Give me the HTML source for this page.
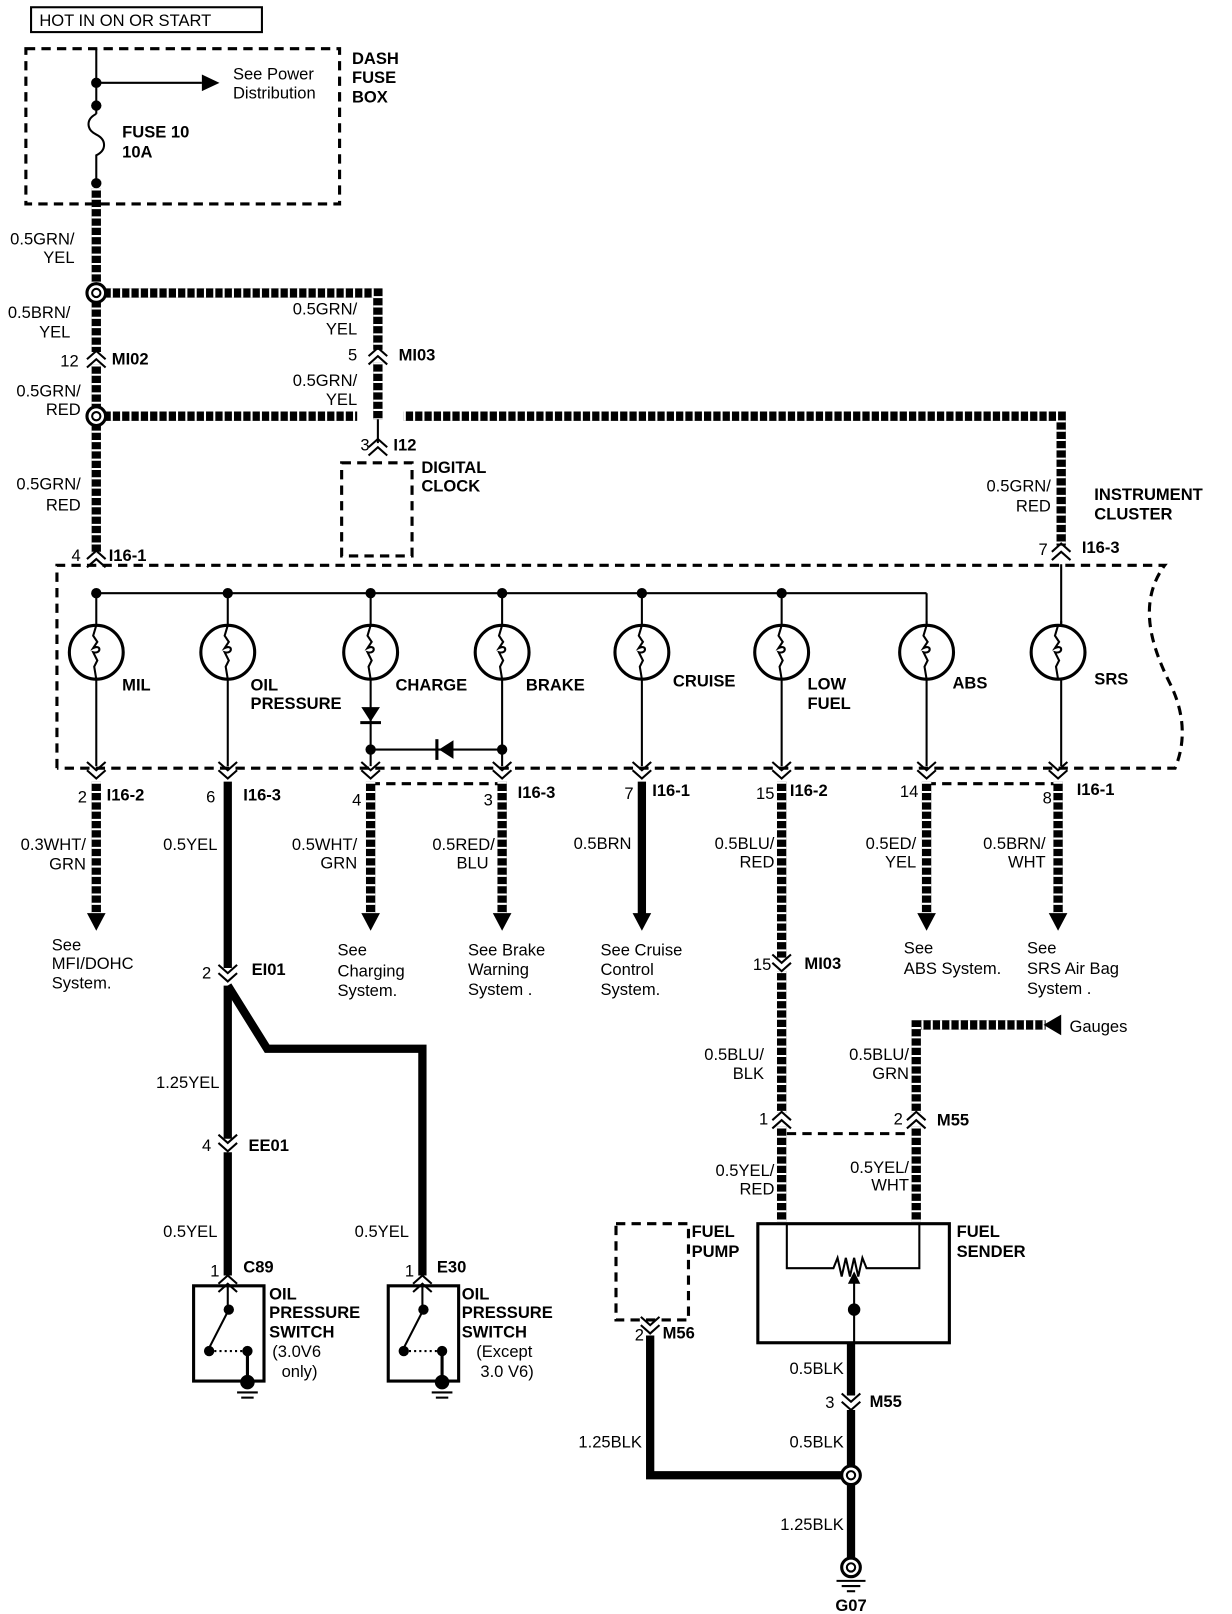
<!DOCTYPE html>
<html><head><meta charset="utf-8"><style>
html,body{margin:0;padding:0;background:#fff;}
svg{display:block;}
text{font-family:"Liberation Sans",sans-serif;font-size:16px;fill:#000;}
.b{font-weight:bold;}
.r{text-anchor:end;}
.c{text-anchor:middle;}
.t{stroke:#000;stroke-width:2;fill:none;}
.d{stroke:#000;stroke-width:3;fill:none;stroke-dasharray:9 6;}
.hb{stroke:#000;stroke-width:9;fill:none;}
.hw{stroke:#fff;stroke-width:9;fill:none;stroke-dasharray:2 7;}
.s{stroke:#000;stroke-width:8;fill:none;}
</style></head><body>
<svg width="1232" height="1614" viewBox="0 0 1190 1559" preserveAspectRatio="none" xmlns="http://www.w3.org/2000/svg">
<defs>
<g id="cd"><polyline class="t" points="-9,-8 0,0 9,-8" stroke-width="2.5"/><polyline class="t" points="-9,0 0,8 9,0" stroke-width="2.5"/></g>
<g id="cu"><polyline class="t" points="-9,8 0,0 9,8" stroke-width="2.5"/><polyline class="t" points="-9,0 0,-8 9,0" stroke-width="2.5"/></g>
<g id="bulb"><circle r="26" fill="#fff" stroke="#000" stroke-width="3"/><path d="M0,-26 l-3,10 l4,6 l-4,6 c8,-4 8,6 0,4 l4,8 l-3,6 L0,26" class="t"/></g>
<g id="sw1">
<use href="#cu" x="220" y="1240"/>
<rect x="187" y="1242" width="68" height="92" fill="none" stroke="#000" stroke-width="3"/>
<line class="t" x1="220" y1="1240" x2="220" y2="1262"/><circle cx="221" cy="1265" r="5"/>
<line class="t" x1="221" y1="1265" x2="202" y2="1302"/><circle cx="202" cy="1305" r="5"/>
<line x1="202" y1="1305" x2="238" y2="1305" stroke="#000" stroke-width="2" stroke-dasharray="2 3"/><circle cx="239" cy="1305" r="5"/>
<line x1="239" y1="1305" x2="239" y2="1335" stroke="#000" stroke-width="3"/><circle cx="239" cy="1335" r="7"/>
<line x1="229" y1="1345" x2="249" y2="1345" class="t"/><line x1="233" y1="1350" x2="245" y2="1350" class="t"/>
</g>
</defs>
<rect x="0" y="0" width="1190" height="1559" fill="#fff"/>
<rect x="30" y="7" width="223" height="24" fill="none" stroke="#000" stroke-width="2"/>
<text x="38" y="25">HOT IN ON OR START</text>
<rect x="25" y="47" width="303" height="150" class="d"/>
<text class="b" x="340" y="62">DASH</text><text class="b" x="340" y="80">FUSE</text><text class="b" x="340" y="99">BOX</text>
<line class="t" x1="93" y1="47" x2="93" y2="110"/>
<line class="t" x1="93" y1="80" x2="195" y2="80"/><polygon points="195,72 212,80 195,88"/>
<circle cx="93" cy="80" r="5"/><circle cx="93" cy="102" r="5"/>
<path class="t" d="M93,110 c-10,5 -10,15 0,20 c10,5 10,15 0,20 L93,177"/>
<circle cx="93" cy="177" r="5"/>
<text x="225" y="77">See Power</text><text x="225" y="95">Distribution</text>
<text class="b" x="118" y="133">FUSE 10</text><text class="b" x="118" y="152">10A</text>
<g>
<path class="hb" d="M93,182 V278"/><path class="hw" d="M93,182 V278"/>
<path class="hb" d="M98,283 H365 V338"/><path class="hw" d="M98,283 H365 V338"/>
<path class="hb" d="M93,288 V340 M93,352 V397"/><path class="hw" d="M93,288 V340 M93,352 V397"/>
<path class="hb" d="M365,350 V405"/><path class="hw" d="M365,350 V405"/>
<path class="hb" d="M98,402 H345"/><path class="hw" d="M98,402 H345"/>
<path class="hb" d="M93,407 V535"/><path class="hw" d="M93,407 V535"/>
<path class="hb" d="M390,402 H1025 V527"/><path class="hw" d="M390,402 H1025 V527"/>
</g>
<line class="t" x1="365" y1="405" x2="365" y2="428"/>
<circle cx="93" cy="283" r="9" fill="#fff" stroke="#000" stroke-width="3"/><circle cx="93" cy="283" r="4" fill="#fff" stroke="#000" stroke-width="2"/>
<circle cx="93" cy="402" r="9" fill="#fff" stroke="#000" stroke-width="3"/><circle cx="93" cy="402" r="4" fill="#fff" stroke="#000" stroke-width="2"/>
<text class="r" x="72" y="236">0.5GRN/</text><text class="r" x="72" y="254">YEL</text>
<text class="r" x="68" y="307">0.5BRN/</text><text class="r" x="68" y="326">YEL</text>
<use href="#cu" x="93" y="347"/><text class="r" x="76" y="354">12</text><text class="b" x="108" y="352">MI02</text>
<text class="r" x="78" y="383">0.5GRN/</text><text class="r" x="78" y="401">RED</text>
<text class="r" x="78" y="473">0.5GRN/</text><text class="r" x="78" y="493">RED</text>
<text class="r" x="345" y="304">0.5GRN/</text><text class="r" x="345" y="323">YEL</text>
<use href="#cu" x="365" y="344"/><text class="r" x="345" y="348">5</text><text class="b" x="385" y="348">MI03</text>
<text class="r" x="345" y="373">0.5GRN/</text><text class="r" x="345" y="391">YEL</text>
<use href="#cu" x="365" y="432"/><text class="r" x="357" y="435">3</text><text class="b" x="380" y="435">I12</text>
<rect x="330" y="447" width="68" height="90" class="d"/>
<text class="b" x="407" y="457">DIGITAL</text><text class="b" x="407" y="475">CLOCK</text>
<text class="r" x="1015" y="475">0.5GRN/</text><text class="r" x="1015" y="494">RED</text>
<text class="b" x="1057" y="483">INSTRUMENT</text><text class="b" x="1057" y="502">CLUSTER</text>
<use href="#cu" x="93" y="540"/><text class="r" x="78" y="542">4</text><text class="b" x="105" y="542">I16-1</text>
<use href="#cu" x="1025" y="533"/><text class="r" x="1012" y="536">7</text><text class="b" x="1045" y="534">I16-3</text>
<path class="d" d="M55,742 V546 H1125 C1100,580 1110,620 1130,660 C1150,700 1140,730 1135,742 H55"/>
<line class="t" x1="93" y1="573" x2="895" y2="573"/><line class="t" x1="895" y1="573" x2="895" y2="604"/>
<line class="t" x1="1025" y1="545" x2="1025" y2="604"/>
<g fill="#000"><circle cx="93" cy="573" r="5"/><circle cx="220" cy="573" r="5"/><circle cx="358" cy="573" r="5"/><circle cx="485" cy="573" r="5"/><circle cx="620" cy="573" r="5"/><circle cx="755" cy="573" r="5"/></g>
<g class="t">
<line x1="93" y1="573" x2="93" y2="740"/><line x1="220" y1="573" x2="220" y2="740"/><line x1="358" y1="573" x2="358" y2="740"/><line x1="485" y1="573" x2="485" y2="740"/><line x1="620" y1="573" x2="620" y2="740"/><line x1="755" y1="573" x2="755" y2="740"/><line x1="895" y1="600" x2="895" y2="740"/><line x1="1025" y1="600" x2="1025" y2="740"/>
<line x1="358" y1="724" x2="485" y2="724"/>
</g>
<use href="#bulb" x="93" y="630"/><use href="#bulb" x="220" y="630"/><use href="#bulb" x="358" y="630"/><use href="#bulb" x="485" y="630"/><use href="#bulb" x="620" y="630"/><use href="#bulb" x="755" y="630"/><use href="#bulb" x="895" y="630"/><use href="#bulb" x="1022" y="630"/>
<polygon points="349,683 367,683 358,697"/><line x1="348" y1="698" x2="368" y2="698" stroke="#000" stroke-width="3"/>
<polygon points="438,715 438,733 424,724"/><line x1="422" y1="714" x2="422" y2="734" stroke="#000" stroke-width="3"/>
<circle cx="358" cy="724" r="5"/><circle cx="485" cy="724" r="5"/>
<g class="b">
<text x="118" y="667">MIL</text><text x="242" y="667">OIL</text><text x="242" y="685">PRESSURE</text><text x="382" y="667">CHARGE</text><text x="508" y="667">BRAKE</text><text x="650" y="663">CRUISE</text><text x="780" y="666">LOW</text><text x="780" y="685">FUEL</text><text x="920" y="665">ABS</text><text x="1057" y="661">SRS</text>
</g>
<line class="d" x1="358" y1="757" x2="485" y2="757" stroke-width="2"/><line class="d" x1="895" y1="757" x2="1022" y2="757" stroke-width="2"/>
<g>
<use href="#cd" x="93" y="744"/><use href="#cd" x="220" y="744"/><use href="#cd" x="358" y="744"/><use href="#cd" x="485" y="744"/><use href="#cd" x="620" y="744"/><use href="#cd" x="755" y="744"/><use href="#cd" x="895" y="744"/><use href="#cd" x="1022" y="744"/>
</g>
<text class="r" x="84" y="775">2</text><text class="b" x="103" y="773">I16-2</text>
<text class="r" x="208" y="775">6</text><text class="b" x="235" y="773">I16-3</text>
<text class="r" x="349" y="778">4</text>
<text class="r" x="476" y="778">3</text><text class="b" x="500" y="771">I16-3</text>
<text class="r" x="612" y="772">7</text><text class="b" x="630" y="769">I16-1</text>
<text class="r" x="748" y="772">15</text><text class="b" x="763" y="769">I16-2</text>
<text class="r" x="887" y="770">14</text>
<text class="r" x="1016" y="776">8</text><text class="b" x="1040" y="768">I16-1</text>
<g>
<path class="hb" d="M93,755 V885"/><path class="hw" d="M93,755 V885"/>
<path class="hb" d="M358,755 V885"/><path class="hw" d="M358,755 V885"/>
<path class="hb" d="M485,755 V885"/><path class="hw" d="M485,755 V885"/>
<path class="hb" d="M895,755 V885"/><path class="hw" d="M895,755 V885"/>
<path class="hb" d="M1022,755 V885"/><path class="hw" d="M1022,755 V885"/>
<path class="hb" d="M755,755 V925 M755,938 V1075 M755,1088 V1180"/><path class="hw" d="M755,755 V925 M755,938 V1075 M755,1088 V1180"/>
<path class="hb" d="M885,1180 V1088 M885,1075 V990 H1010"/><path class="hw" d="M885,1180 V1088 M885,1075 V990 H1010"/>
</g>
<line class="s" x1="620" y1="755" x2="620" y2="885"/>
<g><polygon points="84,882 102,882 93,899"/><polygon points="349,882 367,882 358,899"/><polygon points="476,882 494,882 485,899"/><polygon points="611,882 629,882 620,899"/><polygon points="886,882 904,882 895,899"/><polygon points="1013,882 1031,882 1022,899"/></g>
<polygon points="1025,980 1025,1000 1008,990"/>
<text x="1033" y="997">Gauges</text>
<text class="r" x="83" y="821">0.3WHT/</text><text class="r" x="83" y="840">GRN</text>
<text class="r" x="210" y="821">0.5YEL</text>
<text class="r" x="345" y="821">0.5WHT/</text><text class="r" x="345" y="839">GRN</text>
<text class="r" x="478" y="821">0.5RED/</text><text class="r" x="472" y="839">BLU</text>
<text class="r" x="610" y="820">0.5BRN</text>
<text class="r" x="748" y="820">0.5BLU/</text><text class="r" x="748" y="838">RED</text>
<text class="r" x="885" y="820">0.5ED/</text><text class="r" x="885" y="838">YEL</text>
<text class="r" x="1010" y="820">0.5BRN/</text><text class="r" x="1010" y="838">WHT</text>
<text x="50" y="918">See</text><text x="50" y="936">MFI/DOHC</text><text x="50" y="955">System.</text>
<text x="326" y="923">See</text><text x="326" y="943">Charging</text><text x="326" y="962">System.</text>
<text x="452" y="923">See Brake</text><text x="452" y="942">Warning</text><text x="452" y="961">System .</text>
<text x="580" y="923">See Cruise</text><text x="580" y="942">Control</text><text x="580" y="961">System.</text>
<text x="873" y="921">See</text><text x="873" y="941">ABS System.</text>
<text x="992" y="921">See</text><text x="992" y="941">SRS Air Bag</text><text x="992" y="960">System .</text>
<path class="s" d="M220,755 V935"/>
<use href="#cd" x="220" y="940"/><text class="r" x="204" y="945">2</text><text class="b" x="243" y="942">EI01</text>
<path class="s" d="M220,952 V1100 M220,1113 V1232"/>
<path class="s" d="M220,952 L258,1013 H408 V1232"/>
<text class="r" x="212" y="1051">1.25YEL</text>
<use href="#cd" x="220" y="1104"/><text class="r" x="204" y="1112">4</text><text class="b" x="240" y="1112">EE01</text>
<text class="r" x="210" y="1195">0.5YEL</text><text class="r" x="395" y="1195">0.5YEL</text>
<use href="#sw1" x="0" y="0"/>
<use href="#sw1" x="188" y="0"/>
<text class="r" x="212" y="1233">1</text><text class="b" x="235" y="1229">C89</text>
<text class="r" x="400" y="1233">1</text><text class="b" x="422" y="1229">E30</text>
<text class="b" x="260" y="1255">OIL</text><text class="b" x="260" y="1273">PRESSURE</text><text class="b" x="260" y="1292">SWITCH</text><text x="263" y="1311">(3.0V6</text><text x="272" y="1330">only)</text>
<text class="b" x="446" y="1255">OIL</text><text class="b" x="446" y="1273">PRESSURE</text><text class="b" x="446" y="1292">SWITCH</text><text x="460" y="1311">(Except</text><text x="464" y="1330">3.0 V6)</text>
<use href="#cd" x="755" y="930"/><text class="r" x="745" y="937">15</text><text class="b" x="777" y="936">MI03</text>
<text class="r" x="738" y="1024">0.5BLU/</text><text class="r" x="738" y="1042">BLK</text>
<text class="r" x="878" y="1024">0.5BLU/</text><text class="r" x="878" y="1042">GRN</text>
<use href="#cu" x="755" y="1082"/><text class="r" x="742" y="1086">1</text>
<use href="#cu" x="885" y="1082"/><text class="r" x="872" y="1086">2</text><text class="b" x="905" y="1087">M55</text>
<line class="d" x1="760" y1="1095" x2="880" y2="1095" stroke-width="2"/>
<text class="r" x="748" y="1136">0.5YEL/</text><text class="r" x="748" y="1154">RED</text>
<text class="r" x="878" y="1133">0.5YEL/</text><text class="r" x="878" y="1150">WHT</text>
<rect x="732" y="1182" width="185" height="115" fill="none" stroke="#000" stroke-width="3"/>
<polyline class="t" points="760,1182 760,1225 805,1225 809,1215 813,1233 817,1215 821,1233 825,1215 829,1233 833,1215 837,1225 888,1225 888,1182"/>
<line class="t" x1="825" y1="1265" x2="825" y2="1232"/><polygon points="819,1240 831,1240 825,1228"/>
<circle cx="825" cy="1265" r="6"/><line class="t" x1="825" y1="1265" x2="825" y2="1297"/>
<text class="b" x="924" y="1195">FUEL</text><text class="b" x="924" y="1214">SENDER</text>
<rect x="595" y="1182" width="70" height="93" class="d"/>
<text class="b" x="668" y="1195">FUEL</text><text class="b" x="668" y="1214">PUMP</text>
<use href="#cd" x="628" y="1280"/><text class="r" x="622" y="1295">2</text><text class="b" x="640" y="1293">M56</text>
<path class="s" d="M628,1290 V1425 H815"/>
<path class="s" d="M822,1297 V1348 M822,1362 V1418 M822,1433 V1505"/>
<use href="#cd" x="822" y="1354"/><text class="r" x="806" y="1360">3</text><text class="b" x="840" y="1359">M55</text>
<text class="r" x="815" y="1327">0.5BLK</text><text class="r" x="815" y="1398">0.5BLK</text>
<text class="r" x="620" y="1398">1.25BLK</text><text class="r" x="815" y="1478">1.25BLK</text>
<circle cx="822" cy="1425" r="9" fill="#fff" stroke="#000" stroke-width="3"/><circle cx="822" cy="1425" r="4" fill="#fff" stroke="#000" stroke-width="2"/>
<circle cx="822" cy="1514" r="9" fill="#fff" stroke="#000" stroke-width="3"/><circle cx="822" cy="1514" r="4" fill="#fff" stroke="#000" stroke-width="2"/>
<line class="t" x1="808" y1="1527" x2="836" y2="1527"/><line class="t" x1="813" y1="1532" x2="831" y2="1532"/><line class="t" x1="818" y1="1537" x2="826" y2="1537"/>
<text class="b c" x="822" y="1556">G07</text>
</svg>
</body></html>
